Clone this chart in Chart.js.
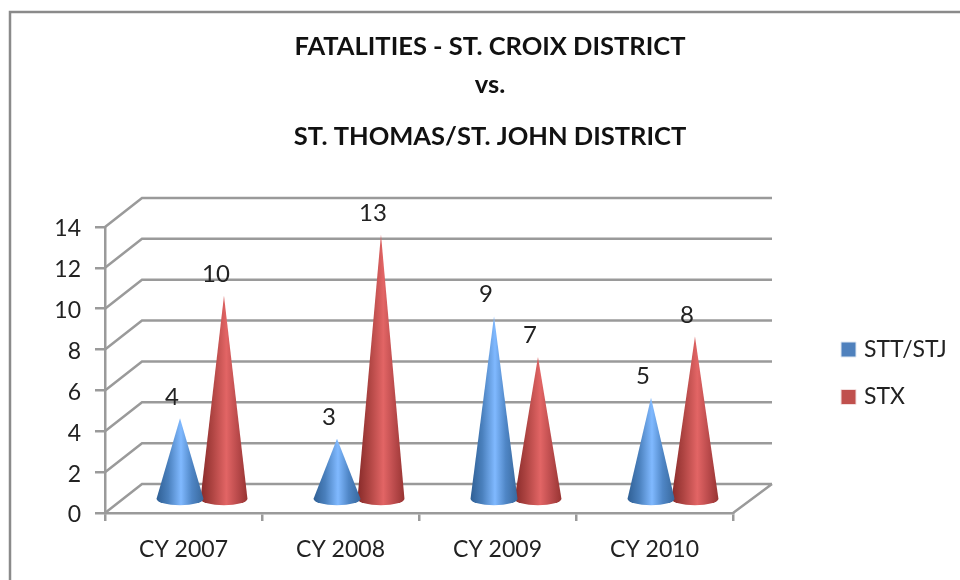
<!DOCTYPE html>
<html><head><meta charset="utf-8">
<style>html,body{margin:0;padding:0;background:#fff}canvas{display:block}</style>
<script src="https://cdn.jsdelivr.net/npm/chart.js@4"></script>
</head><body>
<canvas id="c" width="960" height="580"></canvas>
<script>
const categories = ["CY 2007","CY 2008","CY 2009","CY 2010"];
const sttStj = [4,3,9,5];
const stx = [10,13,7,8];
const seriesNames = ["STT/STJ","STX"];
const yTicks = [0,2,4,6,8,10,12,14];
const titleLines = ["FATALITIES - ST. CROIX DISTRICT","vs."];
const subtitleLine = "ST. THOMAS/ST. JOHN DISTRICT";

const FONT = "Lato, 'Open Sans', sans-serif";
const GRID = "#9a9a9a";
const DEPTH_X = 37, DEPTH_Y = 29;
const gradients = [
  [[0,"#2f5f94"],[.25,"#4a80bd"],[.52,"#80b9ff"],[.75,"#4f86c6"],[1,"#38689c"]],
  [[0,"#872a29"],[.25,"#ae4442"],[.55,"#e26565"],[.8,"#b8494a"],[1,"#973432"]]
];

const frame = {
  id:"frame",
  beforeDraw(chart){
    const c = chart.ctx;
    c.save(); c.strokeStyle="#8a8a8a"; c.lineWidth=2.5;
    c.beginPath(); c.moveTo(10,580); c.lineTo(10,12); c.lineTo(960,12); c.stroke(); c.restore();
    const l = chart.legend;
    l.left = 820; l.right = 960; l.top = 313.5; l.bottom = 500;
    chart.boxes.filter(b=>b.position==="top" && b!==chart.legend).forEach(b=>{ b.left = 20; b.right = 960; });
  }
};
const walls = {
  id:"walls",
  beforeDatasetsDraw(chart){
    const c = chart.ctx, y = chart.scales.y, a = chart.chartArea;
    c.save(); c.strokeStyle=GRID; c.lineWidth=2.5; c.beginPath();
    y.ticks.forEach(t=>{
      const p = y.getPixelForValue(t.value);
      c.moveTo(a.left,p); c.lineTo(a.left+DEPTH_X,p-DEPTH_Y); c.lineTo(a.right+DEPTH_X+2,p-DEPTH_Y);
    });
    const b = y.getPixelForValue(0);
    c.moveTo(a.right,b); c.lineTo(a.right+DEPTH_X+2,b-DEPTH_Y);
    c.stroke(); c.restore();
  }
};
const cones = {
  id:"cones",
  beforeDatasetDraw(chart,args){
    const c = chart.ctx, meta = args.meta, stops = gradients[args.index];
    meta.data.forEach((el,i)=>{
      const p = el.getProps(["x","y","base","width"],true);
      const cx = p.x+DEPTH_X/2, top = p.y-DEPTH_Y/2+1.5, by = p.base-DEPTH_Y/2+1.5;
      const rx = p.width/2+1.5, ry = 6.5;
      const g = c.createLinearGradient(cx-rx,0,cx+rx,0);
      stops.forEach(s=>g.addColorStop(s[0],s[1]));
      c.save(); c.fillStyle=g; c.beginPath();
      c.moveTo(cx,top); c.lineTo(cx+rx,by);
      c.ellipse(cx,by,rx,ry,0,0,Math.PI);
      c.closePath(); c.fill(); c.restore();
      const val = chart.data.datasets[args.index].data[i];
      c.save(); c.fillStyle="#222"; c.font="24px "+FONT; c.textAlign="center"; c.textBaseline="middle";
      c.fillText(String(val),cx-8,top-21.5); c.restore();
    });
    return false;
  }
};
new Chart(document.getElementById("c"),{
  type:"bar",
  data:{labels:categories,datasets:[
    {label:seriesNames[0],data:sttStj,backgroundColor:"#4f81bd",borderColor:"#dfe8f3",borderWidth:1},
    {label:seriesNames[1],data:stx,backgroundColor:"#c0504d",borderColor:"#f3dfdf",borderWidth:1}
  ]},
  options:{
    responsive:false,animation:false,
    layout:{padding:{left:45,right:227,top:0,bottom:17}},
    datasets:{bar:{categoryPercentage:.56,barPercentage:1}},
    plugins:{
      tooltip:{enabled:false},
      title:{display:true,text:titleLines,color:"#111",font:{family:FONT,size:25.5,weight:"bold",lineHeight:"38px"},padding:{top:28,bottom:0}},
      subtitle:{display:true,text:subtitleLine,color:"#111",font:{family:FONT,size:25.5,weight:"bold",lineHeight:"38px"},padding:{top:14,bottom:71}},
      legend:{display:true,position:"chartArea",align:"start",labels:{usePointStyle:true,pointStyle:"rect",boxWidth:8,boxHeight:15,padding:24.5,color:"#222",font:{family:FONT,size:23}}}
    },
    scales:{
      x:{
        afterFit(s){s.height=50;},
        grid:{drawOnChartArea:false,offset:true,color:GRID,lineWidth:2.5,tickLength:8,tickColor:GRID},
        border:{color:GRID,width:2.5},
        ticks:{color:"#222",padding:15,font:{family:FONT,size:23},maxRotation:0}
      },
      y:{
        min:0,max:14,
        afterFit(s){s.width=60;},
        afterBuildTicks(s){s.ticks=yTicks.map(v=>({value:v}));},
        grid:{drawOnChartArea:false,color:GRID,lineWidth:2.5,tickLength:10,tickColor:GRID},
        border:{color:GRID,width:2.5},
        ticks:{color:"#222",padding:14,labelOffset:2,font:{family:FONT,size:23}}
      }
    }
  },
  plugins:[frame,walls,cones]
});
</script>
</body></html>
